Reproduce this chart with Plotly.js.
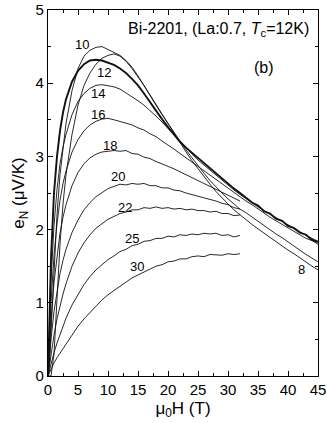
<!DOCTYPE html>
<html>
<head>
<meta charset="utf-8">
<script src="https://cdn.plot.ly/plotly-3.0.1.min.js"></script>
<style>html,body{margin:0;padding:0;background:#fff;}#chart{width:327px;height:423px;}</style>
</head>
<body>
<div id="chart"></div>
<script>
// Magnetic field (T)
const H_to32 = [0,0.25,0.5,1,1.5,2,2.5,3,4,5,6,7,8,9,10,11,12,13,14,15,16,17,18,19,20,21,22,23,24,25,26,27,28,29,30,31,32];
const H_to45 = H_to32.concat([33,34,35,36,37,38,39,40,41,42,43,44,45]);

// e_N (uV/K) for each temperature
const E_30 = [0,0.05,0.1,0.18,0.25,0.31,0.37,0.44,0.56,0.68,0.78,0.87,0.96,1.04,1.11,1.17,1.23,1.28,1.34,1.38,1.42,1.46,1.5,1.52,1.56,1.57,1.6,1.6,1.63,1.64,1.63,1.66,1.66,1.65,1.67,1.66,1.67];
const E_25 = [0,0.09,0.17,0.32,0.45,0.57,0.68,0.79,0.97,1.12,1.25,1.36,1.45,1.52,1.59,1.64,1.7,1.73,1.78,1.8,1.84,1.85,1.88,1.88,1.91,1.9,1.93,1.92,1.94,1.93,1.95,1.94,1.95,1.92,1.93,1.9,1.92];
const E_22 = [0,0.16,0.3,0.56,0.78,0.96,1.12,1.26,1.5,1.68,1.82,1.93,2.02,2.08,2.14,2.18,2.22,2.24,2.27,2.27,2.3,2.29,2.31,2.29,2.3,2.28,2.29,2.27,2.28,2.26,2.26,2.24,2.25,2.22,2.22,2.19,2.2];
const E_20 = [0,0.27,0.5,0.88,1.17,1.4,1.58,1.73,1.96,2.13,2.27,2.37,2.45,2.51,2.56,2.59,2.62,2.61,2.63,2.62,2.63,2.6,2.6,2.57,2.57,2.54,2.53,2.5,2.48,2.46,2.44,2.41,2.39,2.36,2.34,2.3,2.28];
const E_18 = [0,0.42,0.75,1.28,1.66,1.95,2.17,2.34,2.6,2.78,2.9,2.98,3.03,3.06,3.07,3.08,3.07,3.08,3.04,3.03,2.99,2.97,2.93,2.9,2.86,2.83,2.79,2.75,2.71,2.67,2.63,2.59,2.55,2.51,2.47,2.43,2.39];
const E_16 = [0,0.58,1.0,1.65,2.08,2.4,2.63,2.8,3.06,3.23,3.35,3.43,3.48,3.51,3.52,3.5,3.48,3.45,3.43,3.39,3.36,3.31,3.27,3.21,3.16,3.1,3.04,2.98,2.92,2.86,2.8,2.74,2.68,2.62,2.56,2.5,2.45,2.39,2.34,2.28,2.22,2.17,2.12,2.07,2.02,1.97,1.93,1.88,1.85,1.8];
const E_14 = [0,0.75,1.3,2.05,2.55,2.9,3.13,3.3,3.57,3.75,3.86,3.93,3.97,3.98,3.97,3.95,3.92,3.87,3.82,3.76,3.7,3.63,3.55,3.47,3.38,3.29,3.2,3.11,3.03,2.95,2.88,2.81,2.74,2.67,2.6,2.54,2.48,2.42,2.37,2.31,2.26,2.21,2.16,2.11,2.06,2.01,1.97,1.92,1.88,1.84];
const E_12 = [0,0.9,1.6,2.5,3.0,3.35,3.6,3.78,4.02,4.17,4.26,4.31,4.32,4.31,4.28,4.25,4.2,4.14,4.06,3.97,3.86,3.74,3.62,3.51,3.4,3.3,3.2,3.12,3.05,2.97,2.9,2.83,2.76,2.69,2.62,2.56,2.5,2.44,2.37,2.33,2.25,2.22,2.15,2.12,2.05,2.02,1.96,1.93,1.86,1.83];
const E_10 = [0,0.2,0.6,1.5,2.2,2.75,3.15,3.45,3.9,4.2,4.37,4.45,4.49,4.5,4.46,4.42,4.38,4.31,4.22,4.1,3.96,3.83,3.7,3.57,3.45,3.32,3.2,3.09,2.98,2.87,2.77,2.67,2.58,2.5,2.42,2.35,2.28,2.23,2.17,2.12,2.06,2.0,1.94,1.89,1.83,1.78,1.72,1.66,1.61,1.56];
const E_8 = [0,0,0,0.3,1.1,1.8,2.35,2.75,3.3,3.7,3.97,4.14,4.26,4.34,4.38,4.4,4.37,4.3,4.2,4.09,3.97,3.84,3.71,3.58,3.45,3.31,3.18,3.06,2.94,2.83,2.72,2.62,2.52,2.43,2.35,2.27,2.2,2.13,2.07,2.01,1.95,1.89,1.83,1.78,1.72,1.67,1.61,1.56,1.5,1.45];

// Curve labels (temperature in K) and where they are written (H, e_N)
const labelText = ["10","12","14","16","18","20","22","25","30","8"];
const labelH    = [5.6, 9.3, 8.3, 8.4, 10.3, 11.7, 12.8, 14.0, 14.8, 42.3];
const labelE    = [4.53, 4.15, 3.86, 3.57, 3.15, 2.72, 2.3, 1.88, 1.49, 1.45];

const series = [
  {T:"30", H:H_to32, E:E_30, w:0.9},
  {T:"25", H:H_to32, E:E_25, w:0.9},
  {T:"22", H:H_to32, E:E_22, w:0.9},
  {T:"20", H:H_to32, E:E_20, w:0.9},
  {T:"18", H:H_to32, E:E_18, w:0.9},
  {T:"16", H:H_to45, E:E_16, w:0.9},
  {T:"14", H:H_to45, E:E_14, w:0.9},
  {T:"12", H:H_to45, E:E_12, w:1.9},
  {T:"10", H:H_to45, E:E_10, w:0.9},
  {T:"8",  H:H_to45, E:E_8,  w:0.9}
];

const traces = series.map(s => ({
  x: s.H, y: s.E, type: 'scatter', mode: 'lines', name: s.T + ' K',
  line: {color: '#111', width: s.w}, hoverinfo: 'skip'
}));

const font = {family: 'Liberation Sans, Arial, sans-serif', color: '#000'};
const annotations = labelText.map((t, i) => ({
  x: labelH[i], y: labelE[i], xref: 'x', yref: 'y', text: t, showarrow: false,
  font: Object.assign({}, font, {size: 13})
}));
annotations.push({
  xref: 'paper', yref: 'paper', x: 0.975, y: 0.948, xanchor: 'right', yanchor: 'middle',
  text: 'Bi-2201, (La:0.7, <i>T</i><sub>c</sub>=12K)', showarrow: false,
  font: Object.assign({}, font, {size: 16})
});
annotations.push({
  xref: 'paper', yref: 'paper', x: 0.8, y: 0.844, xanchor: 'center', yanchor: 'middle',
  text: '(b)', showarrow: false, font: Object.assign({}, font, {size: 16})
});

const axisCommon = {
  showline: true, linecolor: '#000', linewidth: 1.2, mirror: 'allticks',
  ticks: 'inside', ticklen: 5, tickwidth: 1, tickcolor: '#000',
  showgrid: false, zeroline: false,
  tickfont: Object.assign({}, font, {size: 15})
};

const layout = {
  width: 327, height: 423,
  margin: {l: 48, r: 9, t: 10, b: 47},
  paper_bgcolor: '#fff', plot_bgcolor: '#fff',
  showlegend: false,
  font: font,
  xaxis: Object.assign({}, axisCommon, {
    range: [0, 45], dtick: 5, tick0: 0,
    minor: {dtick: 2.5, ticks: 'inside', ticklen: 3, tickcolor: '#000'},
    title: {text: 'μ<sub>0</sub>H (T)', font: Object.assign({}, font, {size: 17}), standoff: 4}
  }),
  yaxis: Object.assign({}, axisCommon, {
    range: [0, 5], dtick: 1, tick0: 0,
    minor: {dtick: 0.5, ticks: 'inside', ticklen: 3, tickcolor: '#000'},
    title: {text: 'e<sub>N</sub> (μV/K)', font: Object.assign({}, font, {size: 17}), standoff: 6}
  }),
  annotations: annotations
};

Plotly.newPlot('chart', traces, layout, {displayModeBar: false, staticPlot: true});
</script>
</body>
</html>
